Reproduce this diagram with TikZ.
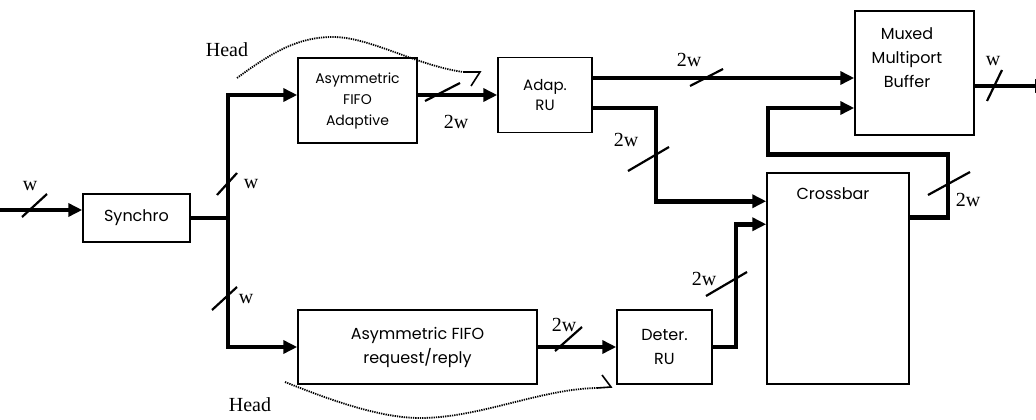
\documentclass[tikz,border=0pt]{standalone}
\usepackage{fontspec}
\setmainfont{Liberation Serif}
\newfontfamily\boxfont{Poppins}
\usetikzlibrary{arrows.meta}
\begin{document}
\begin{tikzpicture}[x=1pt,y=-1pt,
  blk/.style={draw,line width=1.5pt,inner sep=0pt,align=center,font=\boxfont\fontsize{16}{24}\selectfont},
  blktxt/.style={inner sep=0pt,align=center,font=\boxfont\fontsize{16}{24}\selectfont},
  bus/.style={line width=4.5pt,-{Triangle[length=14pt,width=13pt]}},
  busline/.style={line width=4.5pt},
  slashmark/.style={line width=2.2pt},
  lbl/.style={inner sep=0pt,font=\fontsize{20}{22}\selectfont},
  headcurve/.style={line width=1.8pt,dash pattern=on 1.3pt off 1pt},
  barb/.style={line width=1.6pt,line join=miter}]
\useasboundingbox (0,0) rectangle (1036,420);
\fill[white] (0,0) rectangle (1036,420);
% blocks
\node[blk,minimum width=107pt,minimum height=48pt] (synchro) at (136.5,218) {Synchro};
\node[blk,minimum width=119pt,minimum height=85pt,font=\boxfont\fontsize{14}{21}\selectfont] (fifoA) at (357.5,100.5) {Asymmetric\\FIFO\\Adaptive};
\node[blk,minimum width=94pt,minimum height=75pt,font=\boxfont\fontsize{15}{20}\selectfont] (adapRU) at (545,95) {Adap.\\RU};
\node[blk,minimum width=119pt,minimum height=124pt] (buffer) at (914.5,73) {};
\node[blktxt] (buffertxt) at (907,58) {Muxed\\Multiport\\Buffer};
\node[blk,minimum width=142pt,minimum height=211pt] (crossbar) at (838,278.5) {};
\node[blktxt] (crossbartxt) at (833,194) {Crossbar};
\node[blk,minimum width=239pt,minimum height=74pt] (fifoR) at (417.5,347) {Asymmetric FIFO\\request/reply};
\node[blk,minimum width=95pt,minimum height=74pt] (deterRU) at (664.5,347) {Deter.\\RU};
% coordinates
\coordinate (in0) at (0,210);
\coordinate (tj) at (228,218);
\coordinate (a1) at ([yshift=17pt]adapRU.east);
\coordinate (a2) at ([yshift=-13pt]adapRU.east);
\coordinate (c1) at ([yshift=-29pt]crossbar.north west);
\coordinate (c2) at ([yshift=-52pt]crossbar.north west);
\coordinate (c3) at ([yshift=-45pt]crossbar.north east);
\coordinate (b2) at ([yshift=-35pt]buffer.west);
\coordinate (b3) at ([yshift=-13pt]buffer.east);
\coordinate (out) at (1049,86);
% connectors
\draw[bus] (in0) -- (in0 -| synchro.west);
\draw[busline] (synchro.east) -- (tj);
\draw[bus] (tj) |- ([yshift=5.5pt]fifoA.west);
\draw[bus] (tj) |- (fifoR.west);
\draw[bus] (adapRU.west -| fifoA.east) -- (adapRU.west);
\draw[bus] (a1) -- (a1 -| buffer.west);
\draw[bus] (a2) -- ++(63,0) |- (c1);
\draw[bus] (fifoR.east) -- (deterRU.west);
\draw[bus] (deterRU.east) -- ++(23,0) |- (c2);
\draw[bus] (c3) -- ++(38,0) -- ++(0,-63) -- ++(-180,0) |- (b2);
\draw[bus] (b3) -- (out);
% bus width marks
\draw[slashmark] (22,217) -- (47,194);
\draw[slashmark] (217,195) -- (237,173);
\draw[slashmark] (212,310) -- (237,287);
\draw[slashmark] (425,101) -- (460,83);
\draw[slashmark] (690,86) -- (723,69);
\draw[slashmark] (628,171) -- (669,147);
\draw[slashmark] (928,195) -- (970,172);
\draw[slashmark] (987,101) -- (1002,70);
\draw[slashmark] (706,296) -- (747,272);
\draw[slashmark] (555,351) -- (582,327);
% labels
\node[lbl] (lw1) at (30,186) {w};
\node[lbl] (lw2) at (251,184) {w};
\node[lbl] (lw3) at (246,299) {w};
\node[lbl] (l2w1) at (456,122) {2w};
\node[lbl] (l2w2) at (689,60) {2w};
\node[lbl] (l2w3) at (626,140) {2w};
\node[lbl] (l2w4) at (968,200) {2w};
\node[lbl] (lw4) at (993,61) {w};
\node[lbl] (l2w5) at (704,279) {2w};
\node[lbl] (l2w6) at (564,325) {2w};
\node[lbl] (head1) at (227,50) {Head};
\node[lbl] (head2) at (250,405) {Head};
% head curves
\coordinate (h1s) at (237,78);
\coordinate (h1e) at (463,72);
\draw[headcurve] (h1s) .. controls (275,50) and (300,37) .. (333,37) .. controls (370,37) and (415,65) .. (h1e);
\draw[barb] (h1e) -- (480,72) -- (471,86);
\coordinate (h2s) at (285,382);
\coordinate (h2e) at (597,388);
\draw[headcurve] (h2s) .. controls (330,400) and (380,418) .. (420,418) .. controls (480,418) and (540,389) .. (h2e);
\draw[barb] (h2e) -- (611,387) -- (602,375);
\end{tikzpicture}
\end{document}
